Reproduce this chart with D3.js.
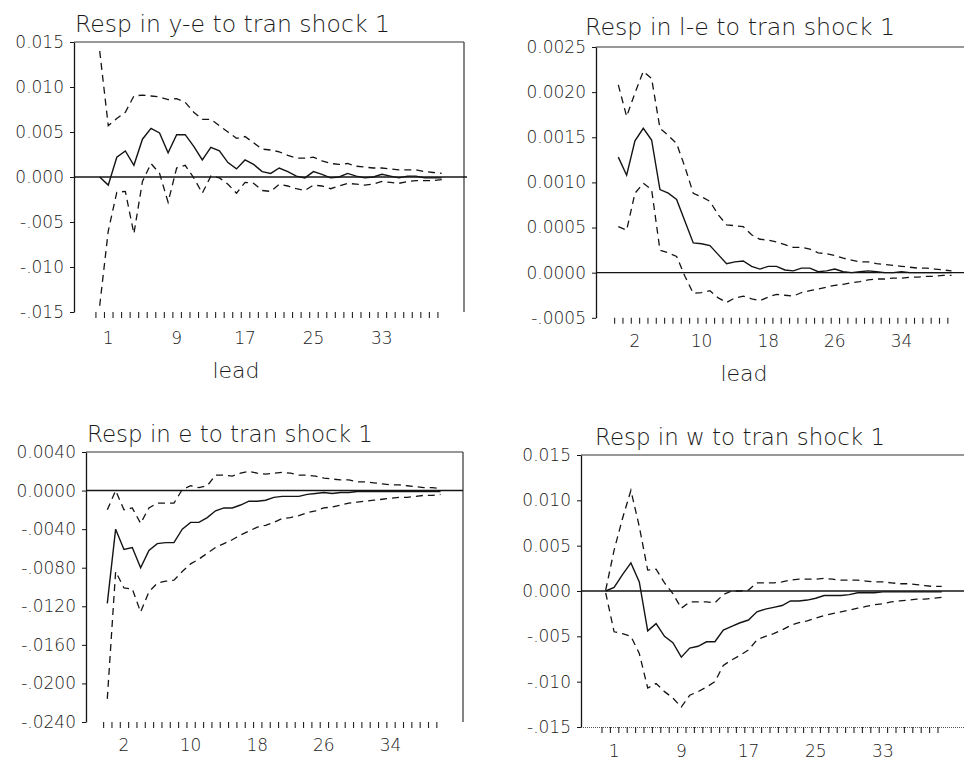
<!DOCTYPE html>
<html>
<head>
<meta charset="utf-8">
<script src="https://cdn.jsdelivr.net/npm/d3@7"></script>
<style>
  html, body { margin: 0; padding: 0; background: #fff; }
  svg { display: block; }
  text { font-family: "DejaVu Sans", sans-serif; font-weight: 200; fill: #1a1a1a; }
</style>
</head>
<body>
<svg id="chart" width="964" height="762"></svg>
<script>
// Impulse responses to the transitory shock, leads 0..40
const leads = d3.range(41);

// Response of y-e
const yeMid = [0.0000,-0.0009,0.0022,0.0029,0.0013,0.0042,0.0054,0.0049,0.0027,0.0047,
  0.0047,0.0034,0.0019,0.0033,0.0029,0.0016,0.0009,0.0019,0.0014,0.0006,
  0.0004,0.0010,0.0006,0.0001,-0.0001,0.0006,0.0003,-0.0001,0.0000,0.0004,
  0.0001,-0.0001,0.0000,0.0003,0.0001,-0.0001,0.0001,0.0001,-0.0001,-0.0001,-0.0001];
const yeUpper = [0.0140,0.0057,0.0065,0.0072,0.0090,0.0091,0.0090,0.0089,0.0086,0.0087,
  0.0083,0.0072,0.0064,0.0064,0.0057,0.0050,0.0043,0.0045,0.0038,0.0031,
  0.0030,0.0028,0.0024,0.0021,0.0021,0.0022,0.0018,0.0015,0.0014,0.0015,
  0.0012,0.0011,0.0010,0.0010,0.0009,0.0008,0.0008,0.0008,0.0006,0.0005,0.0004];
const yeLower = [-0.0143,-0.0060,-0.0017,-0.0016,-0.0063,-0.0005,0.0015,0.0004,-0.0028,0.0010,
  0.0013,-0.0001,-0.0018,0.0001,-0.0001,-0.0008,-0.0018,-0.0006,-0.0007,-0.0015,
  -0.0016,-0.0008,-0.0010,-0.0013,-0.0015,-0.0009,-0.0010,-0.0013,-0.0010,-0.0007,
  -0.0008,-0.0009,-0.0008,-0.0005,-0.0006,-0.0007,-0.0005,-0.0004,-0.0004,-0.0004,-0.0003];

// Response of l-e
const leMid = [0.00128,0.00108,0.00146,0.00160,0.00147,0.00092,0.00088,0.00081,0.00057,0.00033,
  0.00032,0.00030,0.00020,0.00010,0.00012,0.00013,0.00007,0.00004,0.00007,0.00007,
  0.00003,0.00002,0.00005,0.00005,0.00001,0.00002,0.00004,0.00001,0.00000,0.00001,
  0.00002,0.00001,0.00000,0.00000,0.00001,0.00000,0.00000,0.00000,0.00000,0.00000,0.00000];
const leUpper = [0.00208,0.00173,0.00199,0.00223,0.00215,0.00160,0.00152,0.00143,0.00117,0.00088,
  0.00084,0.00079,0.00064,0.00053,0.00052,0.00051,0.00042,0.00037,0.00036,0.00034,
  0.00031,0.00028,0.00028,0.00026,0.00022,0.00021,0.00019,0.00016,0.00014,0.00012,
  0.00012,0.00010,0.00009,0.00008,0.00007,0.00006,0.00005,0.00005,0.00004,0.00003,0.00002];
const leLower = [0.00051,0.00047,0.00088,0.00099,0.00092,0.00025,0.00022,0.00018,-0.00004,-0.00023,
  -0.00022,-0.00020,-0.00028,-0.00033,-0.00028,-0.00026,-0.00029,-0.00031,-0.00027,-0.00024,
  -0.00025,-0.00026,-0.00022,-0.00020,-0.00018,-0.00016,-0.00014,-0.00013,-0.00011,-0.00010,
  -0.00008,-0.00007,-0.00007,-0.00006,-0.00006,-0.00005,-0.00005,-0.00004,-0.00004,-0.00003,-0.00003];

// Response of e
const eMid = [-0.0117,-0.0040,-0.0061,-0.0059,-0.0080,-0.0062,-0.0055,-0.0054,-0.0054,-0.0040,
  -0.0033,-0.0033,-0.0028,-0.0021,-0.0018,-0.0018,-0.0015,-0.0011,-0.0011,-0.0010,
  -0.0007,-0.0006,-0.0006,-0.0006,-0.0004,-0.0003,-0.0002,-0.0003,-0.0002,-0.0002,
  -0.0001,-0.0001,-0.0001,-0.0001,-0.0001,-0.0001,-0.0001,-0.0001,-0.0001,-0.0001,-0.0001];
const eUpper = [-0.0020,0.0000,-0.0020,-0.0018,-0.0034,-0.0018,-0.0013,-0.0013,-0.0013,0.0001,
  0.0005,0.0003,0.0005,0.0016,0.0016,0.0015,0.0018,0.0020,0.0018,0.0017,
  0.0018,0.0019,0.0018,0.0016,0.0016,0.0015,0.0013,0.0012,0.0011,0.0011,
  0.0009,0.0009,0.0008,0.0007,0.0006,0.0006,0.0005,0.0004,0.0003,0.0003,0.0002];
const eLower = [-0.0216,-0.0084,-0.0101,-0.0102,-0.0126,-0.0105,-0.0096,-0.0094,-0.0093,-0.0084,
  -0.0076,-0.0071,-0.0065,-0.0059,-0.0055,-0.0051,-0.0046,-0.0042,-0.0038,-0.0036,
  -0.0033,-0.0029,-0.0028,-0.0026,-0.0023,-0.0021,-0.0018,-0.0017,-0.0015,-0.0013,
  -0.0012,-0.0011,-0.0010,-0.0009,-0.0008,-0.0007,-0.0007,-0.0006,-0.0005,-0.0005,-0.0004];

// Response of w
const wMid = [0.0000,0.0004,0.0018,0.0031,0.0010,-0.0044,-0.0036,-0.0050,-0.0057,-0.0073,
  -0.0063,-0.0061,-0.0056,-0.0056,-0.0043,-0.0039,-0.0035,-0.0032,-0.0023,-0.0020,
  -0.0018,-0.0016,-0.0011,-0.0011,-0.0010,-0.0008,-0.0005,-0.0005,-0.0005,-0.0004,
  -0.0002,-0.0002,-0.0002,-0.0001,-0.0001,-0.0001,-0.0001,-0.0001,-0.0001,-0.0001,-0.0001];
const wUpper = [0.0001,0.0045,0.0080,0.0111,0.0071,0.0023,0.0024,0.0009,-0.0003,-0.0019,
  -0.0012,-0.0012,-0.0012,-0.0013,-0.0004,0.0000,0.0000,0.0001,0.0009,0.0009,
  0.0009,0.0010,0.0012,0.0013,0.0013,0.0013,0.0014,0.0013,0.0012,0.0012,
  0.0012,0.0011,0.0010,0.0010,0.0009,0.0008,0.0008,0.0007,0.0006,0.0005,0.0005];
const wLower = [-0.0002,-0.0045,-0.0047,-0.0050,-0.0069,-0.0107,-0.0102,-0.0111,-0.0118,-0.0128,
  -0.0115,-0.0111,-0.0106,-0.0100,-0.0082,-0.0076,-0.0071,-0.0065,-0.0054,-0.0050,
  -0.0047,-0.0043,-0.0038,-0.0035,-0.0033,-0.0030,-0.0027,-0.0025,-0.0023,-0.0021,
  -0.0019,-0.0017,-0.0015,-0.0014,-0.0012,-0.0011,-0.0010,-0.0009,-0.0009,-0.0008,-0.0007];

// Axis tick values and labels
const leadLabelsOdd = [1, 9, 17, 25, 33];
const leadLabelsEven = [2, 10, 18, 26, 34];
const yTicks015 = [0.015, 0.010, 0.005, 0.000, -0.005, -0.010, -0.015];
const yTicks0025 = [0.0025, 0.0020, 0.0015, 0.0010, 0.0005, 0.0000, -0.0005];
const yTicks0040 = [0.0040, 0.0000, -0.0040, -0.0080, -0.0120, -0.0160, -0.0200, -0.0240];

const titles = ["Resp in y-e to tran shock 1", "Resp in l-e to tran shock 1",
                "Resp in e to tran shock 1", "Resp in w to tran shock 1"];

// Panel layout
const panels = [
  { title: titles[0], mid: yeMid, upper: yeUpper, lower: yeLower,
    yDomain: [-0.015, 0.015], yTicks: yTicks015, dec: 3, xLabels: leadLabelsOdd,
    left: 74, top: 42, bottom: 312, right: 464, zeroEnd: 467, x0: 99.7, x40: 441.7,
    titleX: 75, titleY: 32, titleW: 315, xLabY: 344, leadX: 236, leadY: 378,
    rightBorder: true, bottomLine: false },
  { title: titles[1], mid: leMid, upper: leUpper, lower: leLower,
    yDomain: [-0.0005, 0.0025], yTicks: yTicks0025, dec: 4, xLabels: leadLabelsEven,
    left: 596, top: 47, bottom: 317.8, right: 964, zeroEnd: 964, x0: 618.3, x40: 951.5,
    titleX: 585, titleY: 35, titleW: 310, xLabY: 347, leadX: 744, leadY: 381,
    rightBorder: false, bottomLine: false },
  { title: titles[2], mid: eMid, upper: eUpper, lower: eLower,
    yDomain: [-0.024, 0.004], yTicks: yTicks0040, dec: 4, xLabels: leadLabelsEven,
    left: 86, top: 452, bottom: 722, right: 463, zeroEnd: 463, x0: 107.3, x40: 440.5,
    titleX: 87, titleY: 442, titleW: 286, xLabY: 751, leadX: null, leadY: null,
    rightBorder: true, bottomLine: false },
  { title: titles[3], mid: wMid, upper: wUpper, lower: wLower,
    yDomain: [-0.015, 0.015], yTicks: yTicks015, dec: 3, xLabels: leadLabelsOdd,
    left: 581, top: 455, bottom: 727, right: 964, zeroEnd: 964, x0: 605.7, x40: 941.7,
    titleX: 595, titleY: 445, titleW: 290, xLabY: 757, leadX: null, leadY: null,
    rightBorder: false, bottomLine: true }
];

const svg = d3.select("#chart");
const ink = "#141414";

function fmt(dec) {
  return v => {
    if (Math.abs(v) < 1e-12) return (0).toFixed(dec);
    if (v > 0) return v.toFixed(dec);
    return "-" + Math.abs(v).toFixed(dec).slice(1);
  };
}

panels.forEach(p => {
  const g = svg.append("g");
  const x = d3.scaleLinear().domain([0, 40]).range([p.x0, p.x40]);
  const y = d3.scaleLinear().domain(p.yDomain).range([p.bottom, p.top]);

  // title
  g.append("text")
    .attr("x", p.titleX).attr("y", p.titleY)
    .attr("font-size", 23)
    .attr("textLength", p.titleW).attr("lengthAdjust", "spacingAndGlyphs")
    .text(p.title);

  // top frame line
  g.append("line")
    .attr("x1", p.left).attr("x2", p.right)
    .attr("y1", p.top).attr("y2", p.top)
    .attr("stroke", "#333").attr("stroke-width", 1.2);

  if (p.rightBorder) {
    g.append("line")
      .attr("x1", p.right).attr("x2", p.right)
      .attr("y1", p.top).attr("y2", p.bottom)
      .attr("stroke", "#333").attr("stroke-width", 1.2);
  }

  // y axis
  const yAxis = d3.axisLeft(y)
    .tickValues(p.yTicks)
    .tickFormat(fmt(p.dec))
    .tickSize(4).tickSizeOuter(0).tickPadding(6);
  const ya = g.append("g").attr("transform", `translate(${p.left},0)`).call(yAxis);
  ya.select(".domain").attr("stroke", ink).attr("stroke-width", 1.3);
  ya.selectAll(".tick line").attr("stroke", ink);
  ya.selectAll(".tick text")
    .attr("font-size", 17).attr("font-family", "DejaVu Sans, sans-serif")
    .attr("font-weight", 200).attr("fill", "#1a1a1a");

  // x tick marks along the bottom
  const xTickAxis = d3.axisBottom(x)
    .tickValues(d3.range(41).map(k => k - 0.5))
    .tickFormat("")
    .tickSize(6).tickSizeOuter(0);
  const xa = g.append("g").attr("transform", `translate(0,${p.bottom})`).call(xTickAxis);
  xa.selectAll(".tick line").attr("stroke", "#222").attr("stroke-width", 1.1);
  if (p.bottomLine) {
    xa.select(".domain").attr("stroke", "#555").attr("stroke-dasharray", "1,1");
    xa.select(".domain").attr("d", `M${p.left},0.5H${p.right}`);
  } else {
    xa.select(".domain").remove();
  }

  // x tick labels
  g.selectAll("text.xl").data(p.xLabels).join("text")
    .attr("class", "xl")
    .attr("x", d => x(d)).attr("y", p.xLabY)
    .attr("text-anchor", "middle").attr("font-size", 17)
    .text(d => d);

  if (p.leadX !== null) {
    g.append("text")
      .attr("x", p.leadX).attr("y", p.leadY)
      .attr("text-anchor", "middle").attr("font-size", 22)
      .text("lead");
  }

  // zero line
  g.append("line")
    .attr("x1", p.left).attr("x2", p.zeroEnd)
    .attr("y1", y(0)).attr("y2", y(0))
    .attr("stroke", ink).attr("stroke-width", 1.4);

  const line = d3.line().x((d, i) => x(leads[i])).y(d => y(d));

  g.append("path").datum(p.upper)
    .attr("d", line).attr("fill", "none")
    .attr("stroke", ink).attr("stroke-width", 1.3)
    .attr("stroke-dasharray", "7,5");
  g.append("path").datum(p.lower)
    .attr("d", line).attr("fill", "none")
    .attr("stroke", ink).attr("stroke-width", 1.3)
    .attr("stroke-dasharray", "7,5");
  g.append("path").datum(p.mid)
    .attr("d", line).attr("fill", "none")
    .attr("stroke", ink).attr("stroke-width", 1.4);
});
</script>
</body>
</html>
